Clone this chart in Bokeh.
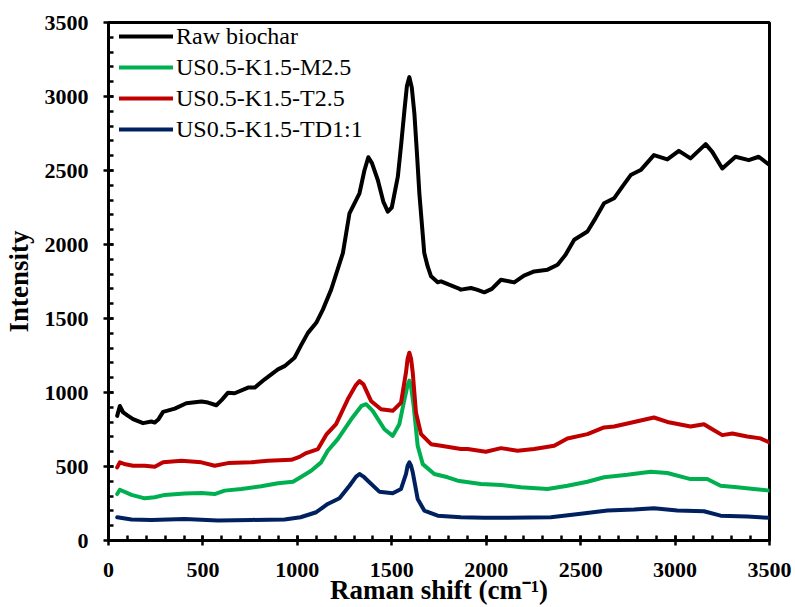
from bokeh.plotting import figure
from bokeh.models import Range1d, SingleIntervalTicker, Legend, LegendItem
from bokeh.embed import file_html
from bokeh.resources import INLINE

# ---- data ----
series_names = ["Raw biochar", "US0.5-K1.5-M2.5", "US0.5-K1.5-T2.5", "US0.5-K1.5-TD1:1"]
x_title = "Raman shift (cm\u207b\u00b9)"
y_title = "Intensity"

raw_x = [46, 60, 78, 100, 130, 183, 227, 245, 265, 289, 351, 412, 492, 527, 571, 600, 633, 668,
         739, 774, 827, 897, 932, 985, 1020, 1056, 1100, 1135, 1179, 1241, 1276, 1329, 1355, 1376,
         1395, 1426, 1455, 1479, 1500, 1532, 1550, 1567, 1580, 1593, 1606, 1620, 1633, 1646, 1672,
         1690, 1708, 1743, 1761, 1800, 1849, 1866, 1919, 1950, 1990, 2030, 2078, 2148, 2200, 2254,
         2325, 2378, 2420, 2466, 2536, 2580, 2624, 2677, 2720, 2765, 2818, 2888, 2959, 3020, 3082,
         3162, 3197, 3250, 3320, 3390, 3443, 3500]
raw_y = [842, 909, 865, 845, 820, 793, 804, 797, 820, 869, 891, 927, 939, 932, 914, 950, 999, 995,
         1033, 1033, 1089, 1156, 1178, 1235, 1320, 1403, 1471, 1560, 1695, 1942, 2211, 2346, 2500, 2590,
         2550, 2436, 2290, 2222, 2250, 2458, 2680, 2907, 3070, 3131, 3060, 2880, 2620, 2346, 1942,
         1852, 1785, 1745, 1751, 1730, 1706, 1695, 1706, 1695, 1677, 1700, 1762, 1744, 1790, 1818,
         1830, 1863, 1930, 2032, 2088, 2180, 2279, 2312, 2390, 2469, 2503, 2604, 2575, 2633, 2582,
         2678, 2626, 2514, 2593, 2570, 2593, 2537]

m_x = [46, 60, 122, 192, 245, 298, 403, 492, 562, 615, 703, 809, 897, 977, 1017, 1073, 1126, 1161,
       1214, 1285, 1340, 1364, 1399, 1461, 1505, 1540, 1567, 1584, 1593, 1602, 1616, 1637, 1664,
       1725, 1796, 1849, 1972, 2078, 2184, 2325, 2430, 2536, 2624, 2747, 2871, 2959, 3082, 3170,
       3241, 3329, 3417, 3500]
m_y = [314, 343, 308, 285, 292, 308, 317, 321, 314, 337, 348, 366, 387, 397, 427, 471, 528, 606,
       685, 819, 910, 921, 876, 752, 707, 786, 954, 1050, 1080, 1040, 909, 640, 516,
       449, 427, 404, 382, 375, 360, 348, 370, 397, 427, 444, 465, 456, 415, 415,
       370, 360, 348, 337]

t_x = [46, 60, 90, 130, 192, 245, 289, 386, 492, 562, 633, 756, 844, 968, 1011, 1047, 1109, 1153,
       1205, 1267, 1310, 1329, 1350, 1390, 1443, 1505, 1549, 1575, 1584, 1593, 1602, 1611, 1628,
       1655, 1708, 1761, 1866, 1902, 1998, 2078, 2166, 2254, 2360, 2430, 2536, 2624, 2677, 2783,
       2888, 2959, 3082, 3153, 3197, 3250, 3303, 3382, 3452, 3500]
t_y = [494, 528, 515, 505, 505, 498, 528, 539, 528, 505, 523, 528, 539, 545, 565, 591, 618, 715,
       786, 954, 1050, 1077, 1055, 943, 887, 876, 932, 1134, 1230, 1269, 1230, 1134, 865,
       719, 651, 640, 618, 618, 600, 624, 606, 618, 640, 689, 719, 764, 770, 801,
       831, 801, 770, 786, 752, 712, 723, 703, 690, 663]

td_x = [46, 122, 227, 403, 580, 756, 932, 1017, 1100, 1161, 1223, 1276, 1310, 1329, 1350, 1373,
        1434, 1505, 1549, 1575, 1584, 1593, 1602, 1611, 1637, 1672, 1743, 1866, 1990, 2342, 2501,
        2642, 2783, 2888, 3012, 3153, 3241, 3382, 3500]
td_y = [157, 142, 139, 146, 135, 139, 142, 157, 191, 247, 285, 370, 430, 449, 432, 404,
        330, 319, 348, 449, 505, 528, 505, 461, 281, 202, 168, 157, 153, 157, 180,
        202, 209, 218, 202, 198, 168, 162, 153]

x_ticks_interval = 500
y_ticks_interval = 500
x_max = 3500
y_max = 3500

colors = ["#000000", "#00B050", "#C00000", "#002060"]
FONT = "Liberation Serif"

p = figure(width=795, height=607, output_backend="svg", toolbar_location=None,
           x_range=Range1d(0, x_max), y_range=Range1d(0, y_max),
           min_border_left=107, min_border_right=26, min_border_top=22, min_border_bottom=65)
p.grid.visible = False
p.background_fill_color = "white"
p.border_fill_color = "white"
p.outline_line_color = "black"
p.outline_line_width = 3
p.outline_line_alpha = 1.0

for ax, iv in ((p.xaxis[0], x_ticks_interval), (p.yaxis[0], y_ticks_interval)):
    ax.ticker = SingleIntervalTicker(interval=iv, num_minor_ticks=5)
    ax.axis_line_width = 3
    ax.axis_line_color = "black"
    ax.major_tick_line_width = 2.5
    ax.minor_tick_line_width = 2.5
    ax.major_tick_line_color = "black"
    ax.minor_tick_line_color = "black"
    ax.major_tick_in = 5
    ax.major_tick_out = 5
    ax.minor_tick_in = 5
    ax.minor_tick_out = 0
    ax.major_label_text_font = FONT
    ax.major_label_text_font_style = "bold"
    ax.major_label_text_font_size = "22px"
    ax.major_label_text_color = "black"
    ax.axis_label_text_font = FONT
    ax.axis_label_text_font_style = "bold"
    ax.axis_label_text_font_size = "27px"
    ax.axis_label_text_color = "black"

p.xaxis[0].major_label_standoff = 17
p.yaxis[0].major_label_standoff = 15
p.xaxis[0].axis_label = x_title
p.yaxis[0].axis_label = y_title
p.xaxis[0].axis_label_standoff = -5
p.yaxis[0].axis_label_standoff = 8

series = [(raw_x, raw_y), (m_x, m_y), (t_x, t_y), (td_x, td_y)]
renderers = []
for (xs, ys), c in zip(series, colors):
    r = p.line(xs, ys, line_color=c, line_width=4, line_join="round", line_cap="round")
    renderers.append(r)

items = [LegendItem(label=n, renderers=[r]) for n, r in zip(series_names, renderers)]
legend = Legend(items=items, location=(11, 397), padding=0, margin=0, spacing=3,
                glyph_width=54, glyph_height=28, label_height=28, label_standoff=3,
                label_text_font=FONT, label_text_font_size="24px", label_text_color="black",
                border_line_alpha=0, background_fill_alpha=0)
p.add_layout(legend)

open("out.html", "w").write(file_html(p, INLINE))
